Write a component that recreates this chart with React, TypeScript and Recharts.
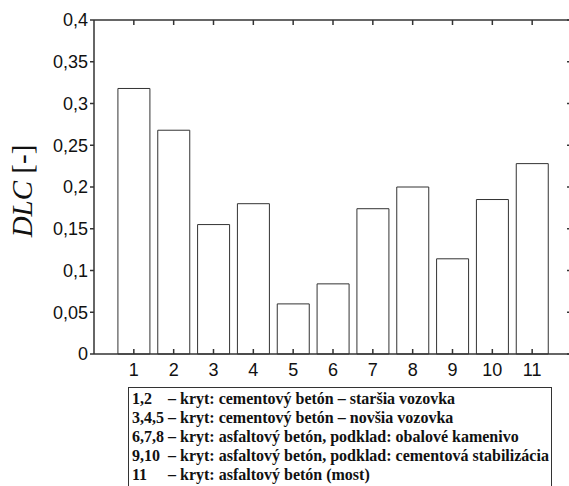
import { BarChart, Bar, XAxis, YAxis, ReferenceLine } from 'recharts';

const categories = [1, 2, 3, 4, 5, 6, 7, 8, 9, 10, 11];
const dlcValues = [0.318, 0.268, 0.155, 0.18, 0.06, 0.084, 0.174, 0.2, 0.114, 0.185, 0.228];
const yTicks = [0, 0.05, 0.1, 0.15, 0.2, 0.25, 0.3, 0.35, 0.4];
const legendLabels = ['1,2', '3,4,5', '6,7,8', '9,10', '11'];
const legendTexts = [
    '– kryt: cementový betón – staršia vozovka',
    '– kryt: cementový betón – novšia vozovka',
    '– kryt: asfaltový betón, podklad: obalové kamenivo',
    '– kryt: asfaltový betón, podklad: cementová stabilizácia',
    '– kryt: asfaltový betón (most)',
];

const data = categories.map((c, i) => ({ x: c, dlc: dlcValues[i] }));

const axisColor = '#333';
const sansFont = '"Liberation Sans", Arial, sans-serif';
const serifFont = '"Liberation Serif", "Times New Roman", serif';
const X_MAX = 12;
const Y_MAX = 0.4;
// inward tick length on the top/right frame, in data units (~5px)
const topTickLen = 0.006;
const rightTickLen = 0.125;

const fmt = (v: number) => String(Number(v.toFixed(2))).replace('.', ',');

const BottomTick = (props: any) => {
    const { x, y, payload } = props;
    return (
        <g>
            <line x1={x} x2={x} y1={y} y2={y - 5} stroke={axisColor} strokeWidth={1.5} />
            <text x={x} y={y + 22} textAnchor="middle" fontSize={18} fontFamily={sansFont} fill="#111">
                {payload.value}
            </text>
        </g>
    );
};

const YLabel = (props: any) => {
    const { viewBox } = props;
    const cx = viewBox.x + 22;
    const cy = viewBox.y + viewBox.height / 2 + 4;
    return (
        <text
            x={cx}
            y={cy}
            transform={`rotate(-90, ${cx}, ${cy})`}
            textAnchor="middle"
            dominantBaseline="central"
            fontSize={29}
            fontFamily={serifFont}
            fill="#111"
        >
            <tspan fontStyle="italic">DLC</tspan>
            <tspan> [-]</tspan>
        </text>
    );
};

export default function App() {
    return (
        <div style={{ position: 'absolute', left: 0, top: 0, width: 569, height: 486, overflow: 'hidden', background: '#fff' }}>
            <BarChart
                width={580}
                height={486}
                data={data}
                margin={{ top: 20, right: 8, bottom: 102, left: 0 }}
                barSize={32}
            >
                <XAxis
                    dataKey="x"
                    type="number"
                    domain={[0, X_MAX]}
                    ticks={categories}
                    height={30}
                    stroke={axisColor}
                    strokeWidth={1.5}
                    tickLine={false}
                    tickSize={0}
                    tickMargin={0}
                    tick={<BottomTick />}
                />
                <YAxis
                    type="number"
                    domain={[0, Y_MAX]}
                    ticks={yTicks}
                    width={94}
                    stroke={axisColor}
                    strokeWidth={1.5}
                    tickSize={4}
                    tickMargin={2}
                    tickFormatter={fmt}
                    tick={{ fill: '#111', fontSize: 18, fontFamily: sansFont }}
                    label={<YLabel />}
                />
                <Bar dataKey="dlc" fill="#fff" stroke="#333" strokeWidth={1} isAnimationActive={false} />
                <ReferenceLine y={Y_MAX} stroke={axisColor} strokeWidth={1.5} />
                <ReferenceLine x={X_MAX} stroke={axisColor} strokeWidth={1.5} />
                {categories.map((c) => (
                    <ReferenceLine
                        key={`t${c}`}
                        segment={[{ x: c, y: Y_MAX }, { x: c, y: Y_MAX - topTickLen }]}
                        stroke={axisColor}
                        strokeWidth={1.5}
                    />
                ))}
                {yTicks.map((t) => (
                    <ReferenceLine
                        key={`r${t}`}
                        segment={[{ x: X_MAX, y: t }, { x: X_MAX - rightTickLen, y: t }]}
                        stroke={axisColor}
                        strokeWidth={1.5}
                    />
                ))}
            </BarChart>
            <div
                style={{
                    position: 'absolute',
                    left: 128,
                    top: 387,
                    width: 424,
                    height: 120,
                    boxSizing: 'border-box',
                    border: '1px solid #333',
                    padding: '1px 0 0 3px',
                    fontFamily: serifFont,
                    fontWeight: 'bold',
                    fontSize: 16,
                    lineHeight: '19px',
                    color: '#111',
                    whiteSpace: 'nowrap',
                }}
            >
                {legendLabels.map((lab, i) => (
                    <div key={lab}>
                        <span style={{ display: 'inline-block', minWidth: 36 }}>{lab}&nbsp;</span>
                        {legendTexts[i]}
                    </div>
                ))}
            </div>
        </div>
    );
}
